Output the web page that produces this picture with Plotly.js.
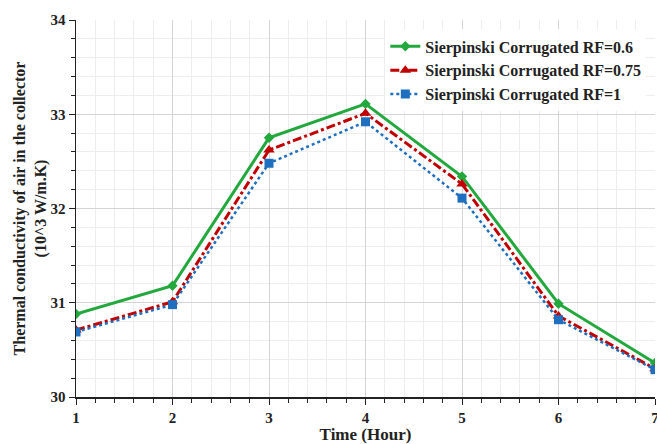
<!DOCTYPE html>
<html>
<head>
<meta charset="utf-8">
<script src="https://cdn.plot.ly/plotly-3.0.1.min.js"></script>
<style>html,body{margin:0;padding:0;background:#fff;}#chart{width:657px;height:444px;}</style>
</head>
<body>
<div id="chart"></div>
<script>
var hours = [1, 2, 3, 4, 5, 6, 7];
var rf06 = [30.88, 31.18, 32.75, 33.11, 32.34, 30.99, 30.36];
var rf075 = [30.71, 31.01, 32.62, 33.01, 32.26, 30.86, 30.30];
var rf1 = [30.69, 30.98, 32.48, 32.92, 32.11, 30.82, 30.29];
var names = ["Sierpinski Corrugated RF=0.6", "Sierpinski Corrugated RF=0.75", "Sierpinski Corrugated RF=1"];

var fam = "'Liberation Serif', 'Times New Roman', serif";
var ink = "#222";

var traces = [
  {x: hours, y: rf06, name: names[0], type: "scatter", mode: "lines+markers",
   line: {color: "#22a83c", width: 3, dash: "solid"},
   marker: {symbol: "diamond", size: 8, color: "#22a83c"}},
  {x: hours, y: rf075, name: names[1], type: "scatter", mode: "lines+markers",
   line: {color: "#c00000", width: 3, dash: "dashdot"},
   marker: {symbol: "triangle-up", size: 10, color: "#c00000"}},
  {x: hours, y: rf1, name: names[2], type: "scatter", mode: "lines+markers",
   line: {color: "#1f6fc0", width: 2.5, dash: "dot"},
   marker: {symbol: "square", size: 9, color: "#1f6fc0"}}
];

var layout = {
  width: 657, height: 444,
  margin: {l: 76, r: 2, t: 20, b: 47},
  paper_bgcolor: "#fff", plot_bgcolor: "#fff",
  font: {family: fam, size: 14, color: ink},
  showlegend: true,
  legend: {x: 0.985, y: 0.975, xanchor: "right", yanchor: "top",
           bgcolor: "rgba(255,255,255,0.9)",
           itemwidth: 30, tracegroupgap: 0,
           font: {family: fam, size: 16, color: ink, weight: "bold"}},
  xaxis: {
    range: [1, 7], dtick: 1, tick0: 1, automargin: false,
    showline: true, linecolor: ink, linewidth: 1.5,
    ticks: "outside", ticklen: 6, tickcolor: ink,
    showgrid: true, gridcolor: "#d4d4d4", gridwidth: 1, zeroline: false,
    ticklabeloverflow: "allow",
    tickfont: {family: fam, size: 15, color: ink, weight: "bold"},
    minor: {dtick: 0.2, ticks: "outside", ticklen: 4, tickcolor: ink, showgrid: true, gridcolor: "#ededed", gridwidth: 1},
    title: {text: "Time (Hour)", font: {family: fam, size: 17, color: ink, weight: "bold"}, standoff: 4}
  },
  yaxis: {
    range: [30, 34], dtick: 1,
    showline: true, linecolor: ink, linewidth: 1.5,
    ticks: "outside", ticklen: 6, tickcolor: ink,
    showgrid: true, gridcolor: "#d4d4d4", gridwidth: 1, zeroline: false,
    tickfont: {family: fam, size: 15, color: ink, weight: "bold"},
    minor: {dtick: 0.2, ticks: "outside", ticklen: 4, tickcolor: ink, showgrid: true, gridcolor: "#ededed", gridwidth: 1},
    title: {text: "Thermal conductivity of air in the collector<br>(10^3 W/m.K)", font: {family: fam, size: 16, color: ink, weight: "bold"}, standoff: 0}
  }
};

Plotly.newPlot("chart", traces, layout, {displayModeBar: false, staticPlot: true});
</script>
</body>
</html>
